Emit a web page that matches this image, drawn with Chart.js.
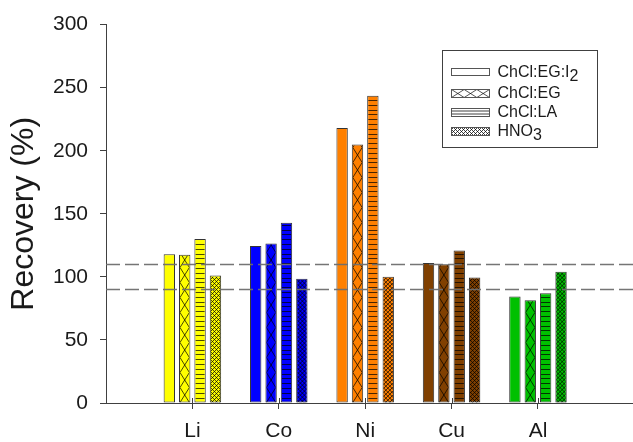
<!DOCTYPE html>
<html>
<head>
<meta charset="utf-8">
<script src="https://cdn.jsdelivr.net/npm/chart.js@4/dist/chart.umd.min.js"></script>
<style>
  html, body { margin: 0; padding: 0; background: #ffffff; }
  #wrap { width: 633px; height: 442px; }
</style>
</head>
<body>
<div id="wrap"><canvas id="chart" width="633" height="442"></canvas></div>
<script>
// Metals and the colour used for every bar of that metal
const categories = ['Li', 'Co', 'Ni', 'Cu', 'Al'];
const categoryColors = ['#ffff00', '#0000ff', '#ff8000', '#804000', '#00c000'];

// Leaching media, their fill style, and recovery (%) per metal
const seriesNames = ['ChCl:EG:I₂', 'ChCl:EG', 'ChCl:LA', 'HNO₃'];
const seriesFills = ['solid', 'cross', 'lines', 'hatch'];
const chclEgI2 = [118, 124.5, 218, 111, 84.5];
const chclEg   = [117.5, 126.5, 205, 110, 81.5];
const chclLa   = [130, 143, 243.5, 121, 87];
const hno3     = [101, 98.5, 100, 99.5, 104];

// Axis ticks and the acceptance band (dashed lines)
const yTicks = [0, 50, 100, 150, 200, 250, 300];
const limitLines = [90, 110];

const seriesValues = [chclEgI2, chclEg, chclLa, hno3];
const FONT = '"Liberation Sans", Arial, Helvetica, sans-serif';
const INK = '#1a1a1a';
const AXIS = '#404040';

// ---- fill patterns, drawn inside a rectangle ----
function drawFill(ctx, kind, l, t, w, h, anchorY) {
  if (kind === 'solid') return;
  ctx.save();
  ctx.beginPath();
  ctx.rect(l, t, w, h);
  ctx.clip();
  ctx.strokeStyle = 'rgba(0,0,0,0.8)';
  ctx.lineWidth = 0.9;
  ctx.beginPath();
  if (kind === 'lines') {
    const step = 4.8;
    for (let y = anchorY; y > t - step; y -= step) {
      ctx.moveTo(l, Math.round(y) + 0.5);
      ctx.lineTo(l + w, Math.round(y) + 0.5);
    }
  } else if (kind === 'cross') {
    // X shapes, one per tile, tiles as wide as the rectangle
    const d = 15;
    for (let y = anchorY; y > t - d; y -= d) {
      ctx.moveTo(l, y); ctx.lineTo(l + w, y - d);
      ctx.moveTo(l, y - d); ctx.lineTo(l + w, y);
    }
  } else if (kind === 'hatch') {
    const s = 4;
    for (let k = -h - w; k < w + h; k += s) {
      ctx.moveTo(l + k, t + h); ctx.lineTo(l + k + h, t);
      ctx.moveTo(l + k, t); ctx.lineTo(l + k + h, t + h);
    }
  }
  ctx.stroke();
  ctx.restore();
}

// Legend X swatch: a row of X tiles
function drawCrossRow(ctx, l, t, w, h) {
  ctx.save();
  ctx.beginPath(); ctx.rect(l, t, w, h); ctx.clip();
  ctx.strokeStyle = 'rgba(0,0,0,0.75)';
  ctx.lineWidth = 0.9;
  ctx.beginPath();
  const tw = w / 3;
  for (let i = 0; i < 3; i++) {
    const x0 = l + i * tw;
    ctx.moveTo(x0, t); ctx.lineTo(x0 + tw, t + h);
    ctx.moveTo(x0, t + h); ctx.lineTo(x0 + tw, t);
  }
  ctx.stroke();
  ctx.restore();
}

// Text with subscript digits lowered and drawn at full size
const SUBS = '₀₁₂₃₄₅₆₇₈₉';
function drawRichText(ctx, text, x, y, drop) {
  let runs = [];
  for (const ch of text) {
    const idx = SUBS.indexOf(ch);
    const sub = idx >= 0;
    const c = sub ? String(idx) : ch;
    if (runs.length && runs[runs.length - 1].sub === sub) runs[runs.length - 1].s += c;
    else runs.push({ s: c, sub });
  }
  let cx = x;
  for (const r of runs) {
    ctx.fillText(r.s, cx, r.sub ? y + drop : y);
    cx += ctx.measureText(r.s).width;
  }
}

const decorations = {
  id: 'decorations',
  afterDatasetsDraw(chart) {
    const ctx = chart.ctx;
    const area = chart.chartArea;
    const ys = chart.scales.y;
    const xs = chart.scales.x;

    // patterned fills on top of each bar
    chart.data.datasets.forEach((ds, di) => {
      const meta = chart.getDatasetMeta(di);
      meta.data.forEach(bar => {
        const p = bar.getProps(['x', 'y', 'base', 'width'], true);
        const l = p.x - p.width / 2 + 1;
        const top = Math.min(p.y, p.base) + 1;
        const bottom = Math.max(p.y, p.base);
        drawFill(ctx, seriesFills[di], l, top, p.width - 2, bottom - top, bottom);
      });
    });

    // dashed acceptance band
    ctx.save();
    ctx.strokeStyle = 'rgba(110,110,110,0.95)';
    ctx.lineWidth = 1.3;
    ctx.setLineDash([14, 5]);
    limitLines.forEach(v => {
      const y = Math.round(ys.getPixelForValue(v)) + 0.5;
      ctx.beginPath();
      ctx.moveTo(area.left, y);
      ctx.lineTo(chart.width, y);
      ctx.stroke();
    });
    ctx.restore();

    // inner half of the category ticks
    ctx.save();
    ctx.strokeStyle = AXIS;
    ctx.lineWidth = 1;
    ctx.beginPath();
    categories.forEach((c, i) => {
      const x = Math.round(xs.getPixelForValue(i + 1)) + 0.5;
      ctx.moveTo(x, area.bottom);
      ctx.lineTo(x, area.bottom - 5);
    });
    ctx.stroke();
    ctx.restore();
  },
  afterDraw(chart) {
    // framed legend
    const ctx = chart.ctx;
    const box = { l: 442.5, t: 50.5, w: 155, h: 97 };
    ctx.save();
    ctx.fillStyle = '#ffffff';
    ctx.fillRect(box.l, box.t, box.w, box.h);
    ctx.strokeStyle = AXIS;
    ctx.lineWidth = 1;
    ctx.strokeRect(box.l, box.t, box.w, box.h);

    const baselines = [77, 98, 116.5, 136];
    ctx.font = '16px ' + FONT;
    ctx.textBaseline = 'alphabetic';
    seriesNames.forEach((name, i) => {
      const by = baselines[i];
      const h = seriesFills[i] === 'solid' ? 7 : 8;
      const sw = { l: 451.5, t: Math.round(by - 9) + 0.5, w: 38, h };
      ctx.fillStyle = '#ffffff';
      ctx.fillRect(sw.l, sw.t, sw.w, sw.h);
      if (seriesFills[i] === 'cross') drawCrossRow(ctx, sw.l, sw.t, sw.w, sw.h);
      else if (seriesFills[i] === 'lines') {
        ctx.save();
        ctx.strokeStyle = 'rgba(0,0,0,0.75)';
        ctx.beginPath();
        ctx.moveTo(sw.l, sw.t + 2.5); ctx.lineTo(sw.l + sw.w, sw.t + 2.5);
        ctx.moveTo(sw.l, sw.t + 5.5); ctx.lineTo(sw.l + sw.w, sw.t + 5.5);
        ctx.stroke();
        ctx.restore();
      } else drawFill(ctx, seriesFills[i], sw.l, sw.t, sw.w, sw.h, sw.t + sw.h);
      ctx.strokeStyle = '#555';
      ctx.strokeRect(sw.l, sw.t, sw.w, sw.h);
      ctx.fillStyle = INK;
      drawRichText(ctx, name, 497.5, by, 4);
    });
    ctx.restore();
  }
};

const datasets = seriesNames.map((name, i) => ({
  label: name,
  data: seriesValues[i].map((v, k) => ({ x: k + 1, y: v })),
  backgroundColor: categoryColors,
  borderColor: '#333333',
  borderWidth: 1,
  borderSkipped: false,
  categoryPercentage: 0.712,
  barPercentage: 0.74
}));

new Chart(document.getElementById('chart'), {
  type: 'bar',
  data: { datasets },
  plugins: [decorations],
  options: {
    responsive: false,
    animation: false,
    layout: { padding: { top: 22, right: 0, left: 0, bottom: 0 } },
    plugins: { legend: { display: false }, tooltip: { enabled: false } },
    scales: {
      x: {
        type: 'linear',
        offset: false,
        min: 0,
        max: 6.1,
        afterFit: s => { s.height = 39; },
        afterBuildTicks: s => { s.ticks = categories.map((c, i) => ({ value: i + 1 })); },
        grid: { offset: false, drawOnChartArea: false, drawTicks: true, tickLength: 6, color: AXIS },
        border: { display: true, color: AXIS, width: 1 },
        ticks: {
          autoSkip: false,
          maxRotation: 0,
          padding: 10,
          color: INK,
          font: { family: FONT, size: 21 },
          callback: v => categories[v - 1] || ''
        }
      },
      y: {
        min: 0,
        max: 300,
        afterFit: s => { s.width = 106; },
        afterBuildTicks: s => { s.ticks = yTicks.map(v => ({ value: v })); },
        grid: { drawOnChartArea: false, drawTicks: true, tickLength: 6, color: AXIS },
        border: { display: true, color: AXIS, width: 1 },
        ticks: {
          padding: 12,
          color: INK,
          font: { family: FONT, size: 21 }
        },
        title: {
          display: true,
          text: 'Recovery (%)',
          color: INK,
          font: { family: FONT, size: 32 },
          padding: { top: 5, bottom: 0 }
        }
      }
    }
  }
});
</script>
</body>
</html>
